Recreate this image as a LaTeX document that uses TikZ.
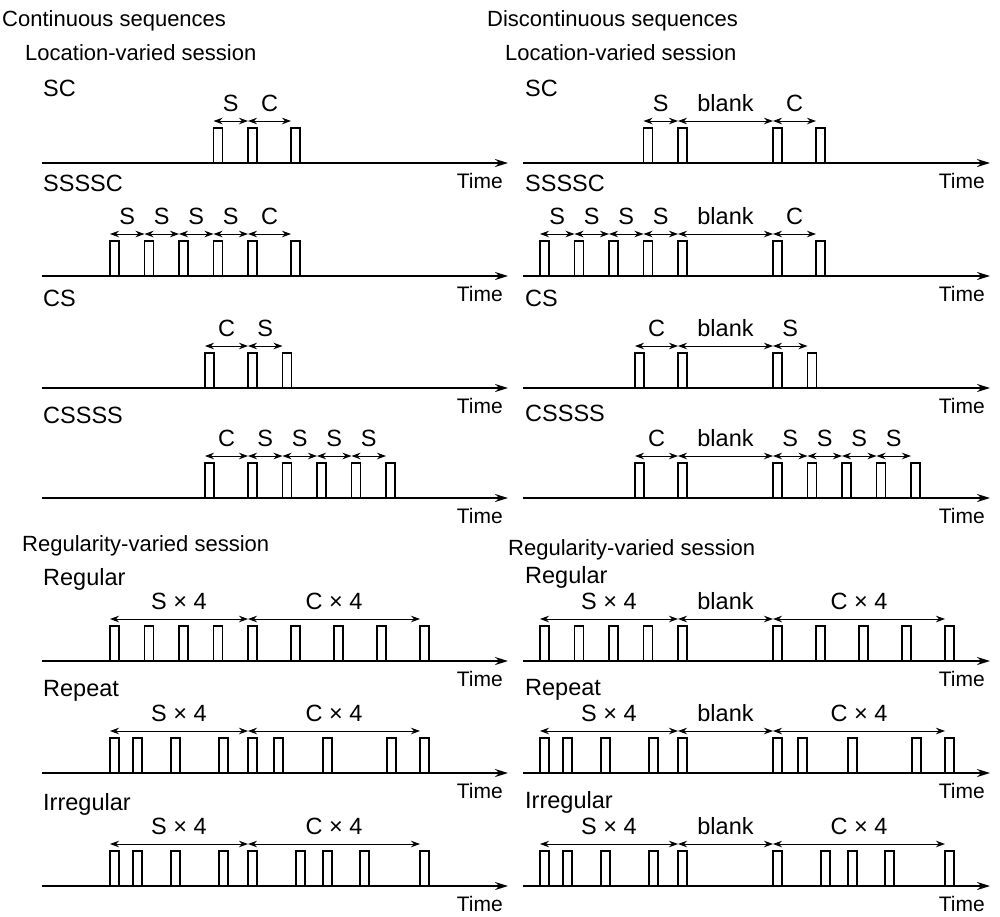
\documentclass[tikz,border=0pt]{standalone}
\usepackage{fontspec}
\setmainfont{Liberation Sans}
\usetikzlibrary{arrows.meta}

\begin{document}
\begin{tikzpicture}[x=1pt,y=-1pt]

% definiciones

% estilos de linea y texto
\tikzstyle{eje}    = [line width=1.8pt,-{Stealth[length=13pt,width=8pt]}]
\tikzstyle{pulso}  = [line width=1.3pt]
\tikzstyle{cota}   = [line width=0.9pt,{Stealth[length=9pt,width=6.5pt]}-{Stealth[length=9pt,width=6.5pt]}]
\tikzstyle{rotulo} = [inner sep=0pt,font=\fontsize{23.5}{27}\selectfont]
\tikzstyle{titulo} = [inner sep=0pt,anchor=base west,font=\fontsize{22}{26}\selectfont]
\tikzstyle{tiempo} = [inner sep=0pt,anchor=base east,font=\fontsize{21}{25}\selectfont]

% eje de tiempo
% #1: x inicial, #2: x final, #3: y del eje
\newcommand{\ejetiempo}[3]{
	\draw [eje] (#1,#3) -- (#2,#3);
	\node [tiempo] (time) at (#2-5,#3+25) {Time};
}

% tren de pulsos
% #1: y del eje, #2: lista de x (borde izquierdo)
\newcommand{\pulsos}[2]{
	\foreach \x in {#2}
		\draw [pulso] (\x,#1) rectangle ++(9,-35);
}

% tramo acotado
% #1: x inicial, #2: x final, #3: y del eje, #4: rotulo
\newcommand{\tramo}[4]{
	\coordinate (A) at (#1,#3-42);
	\coordinate (B) at (#2,#3-42);
	\draw [cota] (A) -- (B);
	\node [rotulo,anchor=base] (lab) at ({(#1+#2)/2},#3-51.6) {#4};
}

\useasboundingbox (0,0) rectangle (1000,916);

% titulos
\node [titulo] (cont) at (2,26) {Continuous sequences};
\node [titulo] (disc) at (487,26) {Discontinuous sequences};
\node [titulo] (locl) at (25,60) {Location-varied session};
\node [titulo] (locr) at (505,60) {Location-varied session};
\node [titulo] (regl) at (22,551) {Regularity-varied session};
\node [titulo] (regr) at (508,555) {Regularity-varied session};

% secuencias continuas
\node [rotulo,anchor=base west] (sc) at (43,96.4) {SC};
\ejetiempo{42}{508}{163}
\pulsos{163}{213.5,248,291}
\tramo{213.5}{248}{163}{S}
\tramo{248}{291}{163}{C}

\node [rotulo,anchor=base west] (ssssc) at (43,191.4) {SSSSC};
\ejetiempo{42}{508}{276}
\pulsos{276}{110,144.5,179,213.5,248,291}
\tramo{110}{144.5}{276}{S}
\tramo{144.5}{179}{276}{S}
\tramo{179}{213.5}{276}{S}
\tramo{213.5}{248}{276}{S}
\tramo{248}{291}{276}{C}

\node [rotulo,anchor=base west] (cs) at (43,306.4) {CS};
\ejetiempo{42}{508}{388}
\pulsos{388}{205,248,282.5}
\tramo{205}{248}{388}{C}
\tramo{248}{282.5}{388}{S}

\node [rotulo,anchor=base west] (cssss) at (43,423.4) {CSSSS};
\ejetiempo{42}{508}{498}
\pulsos{498}{205,248,282.5,317,351.5,386}
\tramo{205}{248}{498}{C}
\tramo{248}{282.5}{498}{S}
\tramo{282.5}{317}{498}{S}
\tramo{317}{351.5}{498}{S}
\tramo{351.5}{386}{498}{S}

\node [rotulo,anchor=base west] (regular) at (43,585) {Regular};
\ejetiempo{42}{508}{661}
\pulsos{661}{110,144.5,179,213.5,248,291,334,377,420}
\tramo{110}{248}{661}{S × 4}
\tramo{248}{420}{661}{C × 4}

\node [rotulo,anchor=base west] (repeat) at (43,696) {Repeat};
\ejetiempo{42}{508}{773}
\pulsos{773}{110,133,171,219,248,274,323,387,420}
\tramo{110}{248}{773}{S × 4}
\tramo{248}{420}{773}{C × 4}

\node [rotulo,anchor=base west] (irregular) at (43,810) {Irregular};
\ejetiempo{42}{508}{886}
\pulsos{886}{110,133,171,219,248,296,323,360,420}
\tramo{110}{248}{886}{S × 4}
\tramo{248}{420}{886}{C × 4}

% secuencias discontinuas
\node [rotulo,anchor=base west] (sc2) at (525,96.4) {SC};
\ejetiempo{523}{990}{163}
\pulsos{163}{643.5,678,773,816}
\tramo{643.5}{678}{163}{S}
\tramo{678}{773}{163}{blank}
\tramo{773}{816}{163}{C}

\node [rotulo,anchor=base west] (ssssc2) at (525,191.4) {SSSSC};
\ejetiempo{523}{990}{276}
\pulsos{276}{540,574.5,609,643.5,678,773,816}
\tramo{540}{574.5}{276}{S}
\tramo{574.5}{609}{276}{S}
\tramo{609}{643.5}{276}{S}
\tramo{643.5}{678}{276}{S}
\tramo{678}{773}{276}{blank}
\tramo{773}{816}{276}{C}

\node [rotulo,anchor=base west] (cs2) at (525,306.4) {CS};
\ejetiempo{523}{990}{388}
\pulsos{388}{635,678,773,807.5}
\tramo{635}{678}{388}{C}
\tramo{678}{773}{388}{blank}
\tramo{773}{807.5}{388}{S}

\node [rotulo,anchor=base west] (cssss2) at (525,421.4) {CSSSS};
\ejetiempo{523}{990}{498}
\pulsos{498}{635,678,773,807.5,842,876.5,911}
\tramo{635}{678}{498}{C}
\tramo{678}{773}{498}{blank}
\tramo{773}{807.5}{498}{S}
\tramo{807.5}{842}{498}{S}
\tramo{842}{876.5}{498}{S}
\tramo{876.5}{911}{498}{S}

\node [rotulo,anchor=base west] (regular2) at (525,583) {Regular};
\ejetiempo{523}{990}{661}
\pulsos{661}{540,574.5,609,643.5,678,773,816,859,902,945}
\tramo{540}{678}{661}{S × 4}
\tramo{678}{773}{661}{blank}
\tramo{773}{945}{661}{C × 4}

\node [rotulo,anchor=base west] (repeat2) at (525,695) {Repeat};
\ejetiempo{523}{990}{773}
\pulsos{773}{540,563,601,649,678,773,798,848,912,945}
\tramo{540}{678}{773}{S × 4}
\tramo{678}{773}{773}{blank}
\tramo{773}{945}{773}{C × 4}

\node [rotulo,anchor=base west] (irregular2) at (525,808) {Irregular};
\ejetiempo{523}{990}{886}
\pulsos{886}{540,563,601,649,678,773,821,848,885,945}
\tramo{540}{678}{886}{S × 4}
\tramo{678}{773}{886}{blank}
\tramo{773}{945}{886}{C × 4}

\end{tikzpicture}
\end{document}
